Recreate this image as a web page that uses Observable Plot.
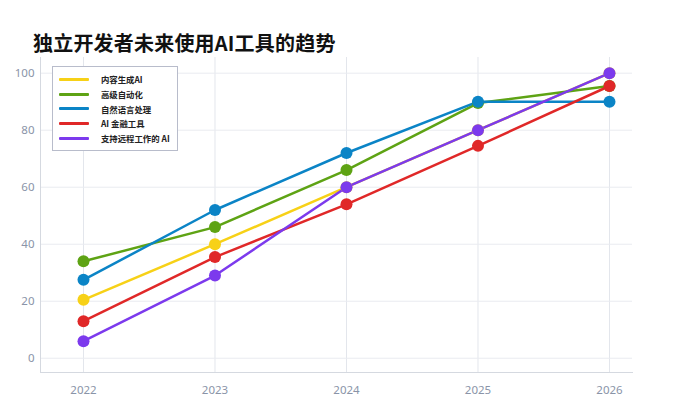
<!DOCTYPE html>
<html><head><meta charset="utf-8">
<script src="https://cdn.jsdelivr.net/npm/d3@7"></script>
<script src="https://cdn.jsdelivr.net/npm/@observablehq/plot@0.6"></script>
<style>
body{margin:0;background:#fff;font-family:"Noto Sans CJK SC","Noto Sans",sans-serif;}
#wrap{position:relative;width:679px;height:411px;}
#title{position:absolute;left:33px;top:28px;font-size:20px;font-weight:700;color:#111;letter-spacing:0.2px;}
#legend{position:absolute;left:52px;top:66px;width:126px;height:85px;border:1px solid #b8bccb;background:#fff;box-sizing:border-box;padding-top:5px;}
.li{display:flex;align-items:center;height:14.7px;font-size:8.4px;font-weight:700;color:#222;}
.sw{width:30px;height:3px;margin-left:6px;margin-right:12px;border-radius:1px;}
</style></head>
<body>
<div id="wrap">
<div id="chart"></div>
<div id="title">独立开发者未来使用AI工具的趋势</div>
<div id="legend"></div>
</div>
<script>
const years = [2022, 2023, 2024, 2025, 2026];
const seriesNames = ["内容生成AI", "高级自动化", "自然语言处理", "AI 金融工具", "支持远程工作的 AI"];
const colors = ["#f7d117", "#5ea314", "#0b84c6", "#e02828", "#7c3aed"];
const contentGen = [20.5, 40, 60, 80, 100];
const automation = [34, 46, 66, 89.5, 95.5];
const nlp = [27.5, 52, 72, 90, 90];
const finance = [13, 35.5, 54, 74.5, 95.5];
const remote = [6, 29, 60, 80, 100];
const yTicks = [0, 20, 40, 60, 80, 100];

const allValues = [contentGen, automation, nlp, finance, remote];
const data = [];
seriesNames.forEach((s, i) => years.forEach((y, j) => data.push({series: s, year: y, value: allValues[i][j]})));

const chart = Plot.plot({
  width: 679, height: 411,
  marginTop: 57, marginBottom: 39, marginLeft: 40, marginRight: 47,
  style: {fontFamily: "'Noto Sans', 'Noto Sans CJK SC', sans-serif", fontSize: "11.5px", color: "#8a94a8", background: "#fff"},
  x: {domain: [2021.673, 2026.175], ticks: years, tickFormat: d => String(d), tickSize: 0, tickPadding: 12, label: null},
  y: {domain: [-5, 105.5], ticks: yTicks, tickSize: 0, tickPadding: 6, label: null},
  color: {domain: seriesNames, range: colors},
  marks: [
    Plot.gridX(years, {stroke: "#e3e6ec", strokeOpacity: 1}),
    Plot.gridY(yTicks, {stroke: "#e9ebf0", strokeOpacity: 1}),
    Plot.axisX({ticks: years, tickFormat: d => String(d), tickSize: 0, tickPadding: 13, fill: "#8a94a8"}),
    Plot.axisY({ticks: yTicks, tickSize: 0, tickPadding: 6, fill: "#8a94a8"}),
    Plot.frame({anchor: "left", stroke: "#d5d9e0"}),
    Plot.frame({anchor: "bottom", stroke: "#d5d9e0"}),
    Plot.line(data, {x: "year", y: "value", z: "series", stroke: "series", strokeWidth: 2.5}),
    Plot.dot(data, {x: "year", y: "value", fill: "series", r: 6, stroke: "none"})
  ]
});
document.getElementById("chart").appendChild(chart);

const lg = document.getElementById("legend");
seriesNames.forEach((s, i) => {
  const d = document.createElement("div");
  d.className = "li";
  d.innerHTML = `<span class="sw" style="background:${colors[i]}"></span><span>${s}</span>`;
  lg.appendChild(d);
});
</script>
</body></html>
